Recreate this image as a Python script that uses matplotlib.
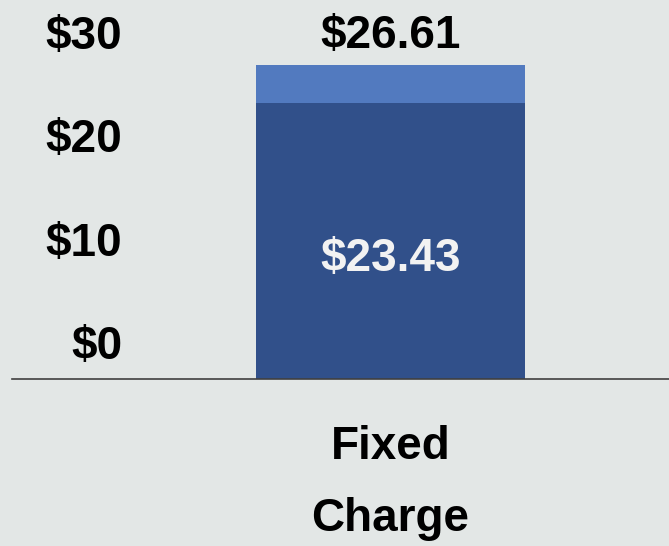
import matplotlib
matplotlib.use("Agg")
import matplotlib.pyplot as plt

categories = ["Fixed\nCharge"]
base_values = [23.43]
upper_values = [3.18]
total_labels = ["$26.61"]
base_labels = ["$23.43"]
tick_values = [0, 10, 20, 30]
tick_labels = ["$0", "$10", "$20", "$30"]

BG = "#E3E7E6"
DARK = "#31508A"
LIGHT = "#527ABF"

W, H = 669, 546
DPI = 100

plt.rcParams.update({
    "font.family": ["Liberation Sans", "DejaVu Sans"],
    "font.weight": "bold",
    "font.size": 33,
})

fig = plt.figure(figsize=(W / DPI, H / DPI), dpi=DPI, facecolor=BG)

# main bar axes: bottom spine is the baseline at y=379 px
base_px = 379
ax = fig.add_axes([12 / W, (H - base_px) / H, 1 - 12 / W, base_px / H])
ax.set_facecolor(BG)
px_per_unit = 314 / 26.61
ax.set_ylim(0, base_px / px_per_unit)
unit_px = 269 / 0.6
ctr = 390.5 - 12
ax.set_xlim(-ctr / unit_px, (W - 12 - ctr) / unit_px)

xs = list(range(len(categories)))
ax.bar(xs, base_values, width=0.6, color=DARK, zorder=2)
ax.bar(xs, upper_values, width=0.6, bottom=base_values, color=LIGHT, zorder=2)

for x, b, u, tl, bl in zip(xs, base_values, upper_values, total_labels, base_labels):
    ax.annotate(tl, (x, b + u), xytext=(0, 5), textcoords="offset points",
                ha="center", va="bottom", color="black")
    ax.annotate(bl, (x, b / 2), xytext=(0, -13), textcoords="offset points",
                ha="center", va="center", color="#F2F2F2")

for s in ["top", "right", "left"]:
    ax.spines[s].set_visible(False)
ax.spines["bottom"].set_color("#404040")
ax.spines["bottom"].set_linewidth(1.2)
ax.set_yticks([])
ax.set_xticks(xs)
ax.set_xticklabels(categories, linespacing=1.82)
ax.tick_params(axis="x", length=0, pad=33)

# y tick labels, drawn on a separate axis with its own scale
lab_px_per_unit = 103.3 / 10
zero_px = 342
lab = fig.add_axes([122 / W, (H - base_px) / H, 0.001, base_px / H])
lab.set_frame_on(False)
lab.patch.set_alpha(0)
lab.set_ylim(-(base_px - zero_px) / lab_px_per_unit, zero_px / lab_px_per_unit)
lab.set_xticks([])
lab.set_yticks(tick_values)
lab.set_yticklabels(tick_labels)
lab.tick_params(axis="y", length=0, pad=0)

fig.savefig("out.png", dpi=DPI, facecolor=BG)
